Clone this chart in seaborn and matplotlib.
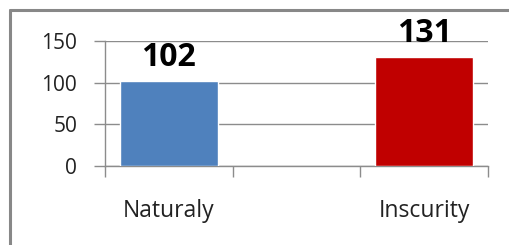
import matplotlib
matplotlib.use("Agg")
import matplotlib.pyplot as plt
from matplotlib.lines import Line2D
import seaborn as sns
import pandas as pd

categories = ["Naturaly", "Inscurity"]
values = [102, 131]
slots = ["Naturaly", " ", "Inscurity"]   # empty middle slot like the original
colors = ["#4F81BD", "#C00000"]
y_ticks = [0, 50, 100, 150]

sns.set_style("white")
plt.rcParams['font.family'] = ['Open Sans', 'DejaVu Sans']

df = pd.DataFrame({"cat": categories, "val": values})

fig = plt.figure(figsize=(5.1, 2.45), dpi=100)
ax = fig.add_axes([105 / 510, 79 / 245, 383 / 510, 125 / 245])

sns.barplot(data=df, x="cat", y="val", order=slots, hue="cat",
            palette=dict(zip(categories, colors)), width=0.77,
            legend=False, saturation=1, ax=ax, zorder=3)

for cont in ax.containers:
    ax.bar_label(cont, fmt="%d", padding=5, fontsize=23, fontweight="bold",
                 color="black")

ax.set_ylim(0, 150)
ax.set_xlim(-0.5, 2.5)
ax.set_yticks(y_ticks)
ax.yaxis.grid(True, color="#8c8c8c", lw=1)
ax.set_axisbelow(True)
ax.set_xlabel("")
ax.set_ylabel("")

for s in ["top", "right"]:
    ax.spines[s].set_visible(False)
for s in ["left", "bottom"]:
    ax.spines[s].set_color("#8c8c8c")
    ax.spines[s].set_linewidth(1)

ax.tick_params(axis="y", left=True, length=8, color="#8c8c8c", width=1,
               labelsize=15, labelcolor="#222222", pad=12)

# tick marks between the slots, labels centred under the slots
ax.set_xticks([-0.5, 0.5, 1.5, 2.5])
ax.set_xticklabels([])
ax.tick_params(axis="x", which="major", bottom=True, length=8,
               color="#8c8c8c", width=1)
ax.set_xticks([0, 1, 2], minor=True)
ax.set_xticklabels(slots, minor=True)
ax.tick_params(axis="x", which="minor", bottom=True, length=0, labelsize=16.5,
               labelcolor="#222222", pad=24)

# outer chart frame (only top and left edges visible in the crop)
fig.add_artist(Line2D([10 / 510, 1], [1 - 10 / 245] * 2,
                      transform=fig.transFigure, color="#888888", lw=2.2))
fig.add_artist(Line2D([10 / 510] * 2, [0, 1 - 10 / 245],
                      transform=fig.transFigure, color="#888888", lw=2.2))

plt.savefig("out.png", dpi=100)
